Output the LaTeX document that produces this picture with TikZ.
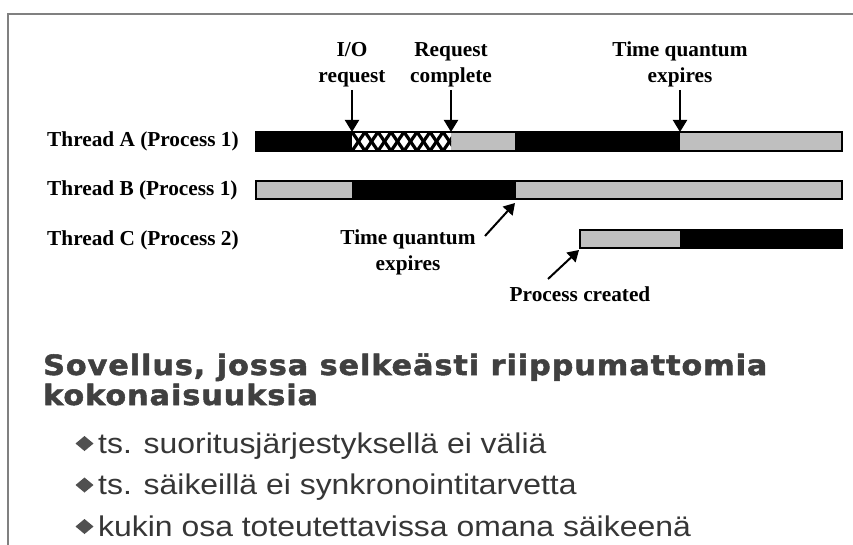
\documentclass[tikz,border=0pt]{standalone}
\usepackage{fontspec}
\setmainfont{Liberation Serif}
\newfontfamily\headfont[FakeStretch=1.08,LetterSpace=3.4,FakeBold=1.8]{DejaVu Sans}
\newfontfamily\bodyfont[FakeStretch=1.12]{Liberation Sans}
\usepackage{tikz}
\usetikzlibrary{positioning,arrows.meta}
\definecolor{framegray}{HTML}{808080}
\definecolor{headgray}{HTML}{404040}
\definecolor{textgray}{HTML}{363636}
\definecolor{dotgray}{HTML}{505050}

\begin{document}
\begin{tikzpicture}[x=1pt,y=-1pt]
    % Define styles
    \tikzstyle{frame} = [draw=framegray, line width=2pt]
    \tikzstyle{run} = [fill=black]
    \tikzstyle{ready} = [fill=gray!50]
    \tikzstyle{outline} = [draw=black, line width=1.5pt]
    \tikzstyle{lbl} = [inner sep=0, align=center, font=\fontsize{21.3}{26}\selectfont\bfseries]
    \tikzstyle{thread} = [inner sep=0, anchor=base west, font=\fontsize{21.3}{26}\selectfont\bfseries]
    \tikzstyle{arrow} = [line width=2pt, -{Triangle[width=14pt,length=12pt]}]
    \tikzstyle{heading} = [inner sep=0, anchor=base west, text=headgray, font=\fontsize{28}{30}\headfont\bfseries]
    \tikzstyle{item} = [inner sep=0, anchor=base west, text=textgray, font=\fontsize{28.5}{30}\bodyfont]

    \useasboundingbox (0,0) rectangle (853,545);
    \draw[frame] (8,545) -- (8,14) -- (853,14);

    % Thread A
    \fill[run] (256,132) rectangle (352,151);
    \fill[ready] (451,132) rectangle (515,151);
    \fill[run] (515,132) rectangle (680,151);
    \fill[ready] (680,132) rectangle (842,151);
    \begin{scope}
        \clip (352,132) rectangle (451,151);
        \fill[white] (352,132) rectangle (451,151);
        \foreach \x in {339,352,...,464} {
            \draw[line width=3.2pt] (\x,132) -- (\x+13,151);
            \draw[line width=3.2pt] (\x,151) -- (\x+13,132);
        }
    \end{scope}
    \draw[outline] (256,132) rectangle (842,151);

    % Thread B
    \fill[ready] (256,181) rectangle (352,199);
    \fill[run] (352,181) rectangle (516,199);
    \fill[ready] (516,181) rectangle (842,199);
    \draw[outline] (256,181) rectangle (842,199);

    % Thread C
    \fill[ready] (580,230) rectangle (680,248);
    \fill[run] (680,230) rectangle (842,248);
    \draw[outline] (580,230) rectangle (842,248);

    % Thread names
    \node[thread] (ta) at (47,147) {Thread A (Process 1)};
    \node[thread] (tb) at (47,196) {Thread B (Process 1)};
    \node[thread] (tc) at (47,245) {Thread C (Process 2)};

    % Events
    \node[lbl, anchor=south] (ioreq) at (352,87) {I/O\\request};
    \node[lbl, anchor=south] (reqdone) at (451,87) {Request\\complete};
    \node[lbl, anchor=south] (quantA) at (680,87) {Time quantum\\expires};
    \node[lbl, anchor=north] (quantB) at (408,230) {Time quantum\\expires};
    \node[lbl, anchor=base] (created) at (580,301) {Process created};

    \coordinate (ioA) at (352,132);
    \coordinate (doneA) at (451,132);
    \coordinate (qA) at (680,132);
    \coordinate (qBtail) at (485,236);
    \coordinate (qB) at (515,203);
    \coordinate (cTail) at (548,279);
    \coordinate (cC) at (579,250);

    \draw[arrow, shorten <=3pt] (ioreq) -- (ioA);
    \draw[arrow, shorten <=3pt] (reqdone) -- (doneA);
    \draw[arrow, shorten <=3pt] (quantA) -- (qA);
    \draw[arrow, -{Triangle[width=13pt,length=11pt]}] (qBtail) -- (qB);
    \draw[arrow, -{Triangle[width=13pt,length=11pt]}] (cTail) -- (cC);

    % Text below
    \node[heading] (h1) at (43,375) {Sovellus, jossa selkeästi riippumattomia};
    \node[heading] (h2) at (43,405) {kokonaisuuksia};
    \foreach \y/\txt [count=\i] in {453/{ts. suoritusjärjestyksellä ei väliä},
                                   494.5/{ts. säikeillä ei synkronointitarvetta},
                                   536/{kukin osa toteutettavissa omana säikeenä}} {
        \fill[dotgray] (84.5,\y-17) -- (93.5,\y-9.5) -- (84.5,\y-2) -- (75.5,\y-9.5) -- cycle;
        \node[item] (it\i) at (98,\y) {\txt};
    }
\end{tikzpicture}
\end{document}
